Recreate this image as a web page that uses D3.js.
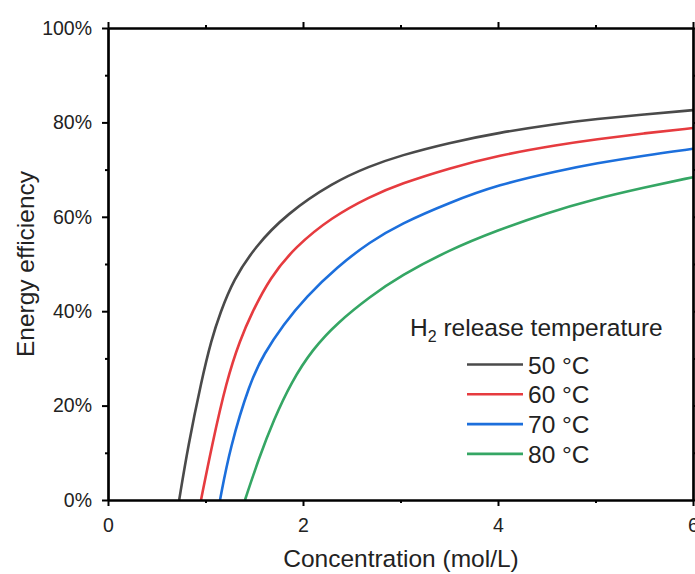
<!DOCTYPE html>
<html>
<head>
<meta charset="utf-8">
<script src="https://cdn.jsdelivr.net/npm/d3@7"></script>
<style>
  body { margin: 0; background: #fff; }
  text { font-family: "Liberation Sans", Arial, sans-serif; fill: #222; }
</style>
</head>
<body>
<svg width="695" height="574"></svg>
<script>
// values (concentration in mol/L, efficiency in %)
var conc50 = [0.73, 0.82, 0.96, 1.06, 1.15, 1.285, 1.51, 1.83, 2.31, 2.68, 3, 3.5, 4, 4.63, 5, 5.5, 6];
var eff50 = [0, 11.3, 25.4, 33.9, 39.6, 46.6, 53.7, 60.6, 67.3, 70.7, 73.0, 75.7, 77.8, 79.8, 80.7, 81.7, 82.6];
var conc60 = [0.954, 1.063, 1.217, 1.354, 1.474, 1.662, 1.918, 2.294, 2.687, 3, 3.5, 4, 4.63, 5, 5.5, 6];
var eff60 = [0, 11.3, 25.4, 33.9, 39.6, 47.1, 53.6, 59.9, 64.3, 67, 70.3, 73, 75.3, 76.4, 77.7, 78.8];
var conc70 = [1.149, 1.25, 1.456, 1.6, 1.8, 2.03, 2.35, 2.687, 3, 3.5, 4, 4.63, 5, 5.5, 6];
var eff70 = [0, 11, 25, 31, 37.2, 43, 49.4, 54.7, 58.5, 63, 66.8, 69.8, 71.3, 73, 74.4];
var conc80 = [1.405, 1.55, 1.7, 1.88, 2.1, 2.35, 2.687, 3, 3.5, 4, 4.5, 4.96, 5.5, 6];
var eff80 = [0, 9, 17, 25, 32, 37.5, 43.1, 47.5, 53, 57.2, 60.8, 63.6, 66.2, 68.4];

var seriesNames = ["50 °C", "60 °C", "70 °C", "80 °C"];
var seriesColors = ["#4a4a4a", "#e63b3f", "#1c6fdc", "#35a664"];
var xTicks = [0, 2, 4, 6];
var yTicks = [0, 20, 40, 60, 80, 100];

var series = [
  { name: seriesNames[0], color: seriesColors[0], xs: conc50, ys: eff50 },
  { name: seriesNames[1], color: seriesColors[1], xs: conc60, ys: eff60 },
  { name: seriesNames[2], color: seriesColors[2], xs: conc70, ys: eff70 },
  { name: seriesNames[3], color: seriesColors[3], xs: conc80, ys: eff80 }
];

const plotL = 108, plotT = 28, plotR = 693, plotB = 500;

const svg = d3.select("svg");

const x = d3.scaleLinear().domain([0, 6]).range([plotL, plotR]);
const y = d3.scaleLinear().domain([0, 100]).range([plotB, plotT]);

// curves
const line = d3.line()
  .x(function (d) { return x(d[0]); })
  .y(function (d) { return y(d[1]); })
  .curve(d3.curveBasis);

svg.append("g")
  .selectAll("path")
  .data(series)
  .enter()
  .append("path")
  .attr("fill", "none")
  .attr("stroke", function (d) { return d.color; })
  .attr("stroke-width", 2.6)
  .attr("d", function (d) {
    return line(d.xs.map(function (v, i) { return [v, d.ys[i]]; }));
  });

// axes
function styleAxis(g) {
  g.select(".domain").attr("stroke", "#000").attr("stroke-width", 2.2);
  g.selectAll(".tick line").attr("stroke", "#000").attr("stroke-width", 2);
  g.selectAll(".tick text").attr("font-size", 19.5).attr("fill", "#222");
}

// minor ticks
const xMinor = [1, 3, 5];
const yMinor = [10, 30, 50, 70, 90];

svg.append("g")
  .attr("transform", "translate(0," + plotB + ")")
  .call(d3.axisBottom(x).tickValues(xMinor).tickSize(3).tickFormat("").tickSizeOuter(0))
  .call(styleAxis);
svg.append("g")
  .attr("transform", "translate(0," + plotT + ")")
  .call(d3.axisTop(x).tickValues(xMinor).tickSize(3).tickFormat("").tickSizeOuter(0))
  .call(styleAxis);
svg.append("g")
  .attr("transform", "translate(" + plotL + ",0)")
  .call(d3.axisLeft(y).tickValues(yMinor).tickSize(3).tickFormat("").tickSizeOuter(0))
  .call(styleAxis);
svg.append("g")
  .attr("transform", "translate(" + plotR + ",0)")
  .call(d3.axisRight(y).tickValues(yMinor).tickSize(3).tickFormat("").tickSizeOuter(0))
  .call(styleAxis);

// major ticks
svg.append("g")
  .attr("transform", "translate(0," + plotB + ")")
  .call(d3.axisBottom(x).tickValues(xTicks).tickSize(6).tickPadding(12).tickSizeOuter(0).tickFormat(d3.format("d")))
  .call(styleAxis);
svg.append("g")
  .attr("transform", "translate(0," + plotT + ")")
  .call(d3.axisTop(x).tickValues(xTicks).tickSize(6).tickFormat("").tickSizeOuter(0))
  .call(styleAxis);
svg.append("g")
  .attr("transform", "translate(" + plotL + ",0)")
  .call(d3.axisLeft(y).tickValues(yTicks).tickSize(6).tickPadding(10).tickSizeOuter(0).tickFormat(function (d) { return d + "%"; }))
  .call(styleAxis);
svg.append("g")
  .attr("transform", "translate(" + plotR + ",0)")
  .call(d3.axisRight(y).tickValues(yTicks).tickSize(6).tickFormat("").tickSizeOuter(0))
  .call(styleAxis);

// axis titles
svg.append("text")
  .attr("x", 401)
  .attr("y", 567)
  .attr("text-anchor", "middle")
  .attr("font-size", 24.5)
  .text("Concentration (mol/L)");

svg.append("text")
  .attr("transform", "translate(34,264) rotate(-90)")
  .attr("text-anchor", "middle")
  .attr("font-size", 24.5)
  .text("Energy efficiency");

// legend
const legend = svg.append("g");
const title = legend.append("text")
  .attr("x", 410)
  .attr("y", 336)
  .attr("font-size", 24.5);
title.append("tspan").text("H");
title.append("tspan").attr("font-size", 16).attr("dy", 6).text("2");
title.append("tspan").attr("dy", -6).text(" release temperature");

const item = legend.selectAll("g.item")
  .data(series)
  .enter()
  .append("g")
  .attr("class", "item")
  .attr("transform", function (d, i) { return "translate(0," + (364.5 + i * 29.8) + ")"; });

item.append("line")
  .attr("x1", 467)
  .attr("x2", 523)
  .attr("stroke", function (d) { return d.color; })
  .attr("stroke-width", 2.6);

item.append("text")
  .attr("x", 528)
  .attr("y", 9)
  .attr("font-size", 24.5)
  .text(function (d) { return d.name; });
</script>
</body>
</html>
